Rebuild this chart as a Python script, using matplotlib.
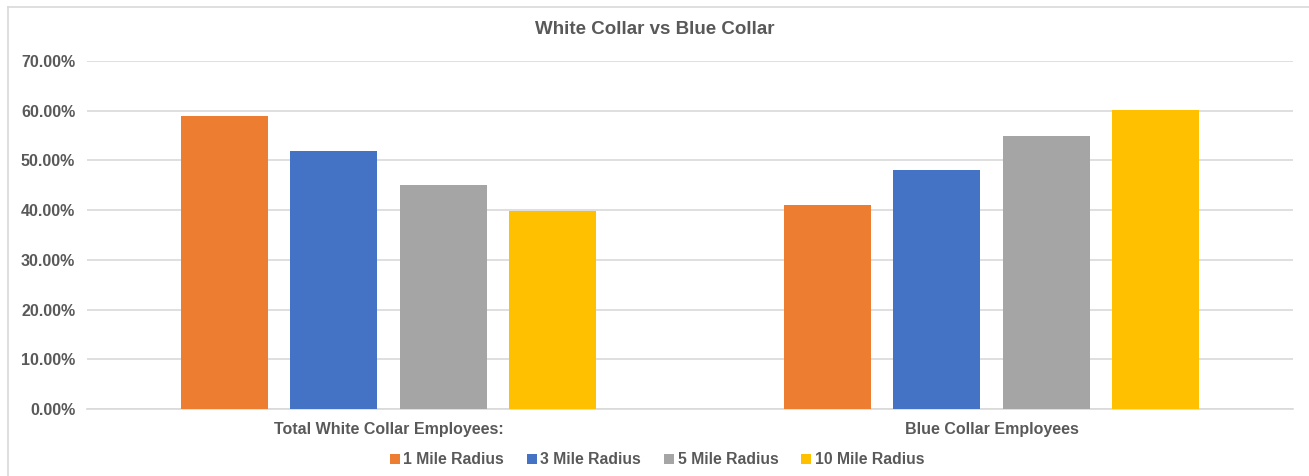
import numpy as np
import matplotlib.pyplot as plt
from matplotlib.lines import Line2D

plt.rcParams['font.family'] = ['Liberation Sans', 'DejaVu Sans']

# Data
categories = ["Total White Collar Employees:", "Blue Collar Employees"]
series_names = ["1 Mile Radius", "3 Mile Radius", "5 Mile Radius", "10 Mile Radius"]
mile_1 = [0.589, 0.411]
mile_3 = [0.519, 0.481]
mile_5 = [0.451, 0.549]
mile_10 = [0.398, 0.602]
series_values = [mile_1, mile_3, mile_5, mile_10]
colors = ["#ED7D31", "#4472C4", "#A5A5A5", "#FFC000"]
text_color = "#595959"
grid_color = "#D9D9D9"

W, H = 1309, 476
fig = plt.figure(figsize=(W / 100, H / 100), dpi=100)
ax = fig.add_axes([87 / W, 1 - 409 / H, 1206 / W, 348 / H])

x = np.arange(len(categories))
width = 0.1438
step = 0.1813
offsets = (np.arange(len(series_names)) - 1.5) * step
for vals, name, col, off in zip(series_values, series_names, colors, offsets):
    ax.bar(x + off, vals, width=width, color=col, label=name, zorder=3)

ax.set_xlim(-0.5, 1.5)
ax.set_ylim(0, 0.7)
yt = np.arange(0, 0.71, 0.1)
ax.set_yticks(yt)
ax.set_yticklabels([f"{v*100:.2f}%" for v in yt])
ax.set_xticks(x)
ax.set_xticklabels(categories)
ax.tick_params(axis='both', length=0, labelsize=11.5, labelcolor=text_color)
ax.tick_params(axis='y', pad=8.5)
ax.tick_params(axis='x', pad=9.5)
for lbl in ax.get_xticklabels() + ax.get_yticklabels():
    lbl.set_fontweight('bold')

ax.grid(axis='y', color=grid_color, linewidth=1.2, zorder=0)
for side in ["top", "right", "left"]:
    ax.spines[side].set_visible(False)
ax.spines["bottom"].set_color(grid_color)
ax.spines["bottom"].set_linewidth(1.2)

fig.text(0.5, 1 - 29 / H, "White Collar vs Blue Collar", ha='center', va='center',
         fontsize=13.5, fontweight='bold', color=text_color)

leg = fig.legend(loc='center', bbox_to_anchor=(657 / W, 1 - 460 / H), ncol=4, frameon=False,
                 handlelength=0.66, handleheight=0.66, handletextpad=0.2,
                 columnspacing=1.45, prop={'size': 11.3, 'weight': 'bold'})
for t in leg.get_texts():
    t.set_color(text_color)

# chart area border (left and top edges visible in the crop)
fig.add_artist(Line2D([8 / W, 8 / W], [0, 1 - 7 / H], transform=fig.transFigure,
                      color=grid_color, linewidth=1.2))
fig.add_artist(Line2D([8 / W, 1], [1 - 7 / H, 1 - 7 / H], transform=fig.transFigure,
                      color=grid_color, linewidth=1.2))

plt.savefig("out.png", dpi=100)
